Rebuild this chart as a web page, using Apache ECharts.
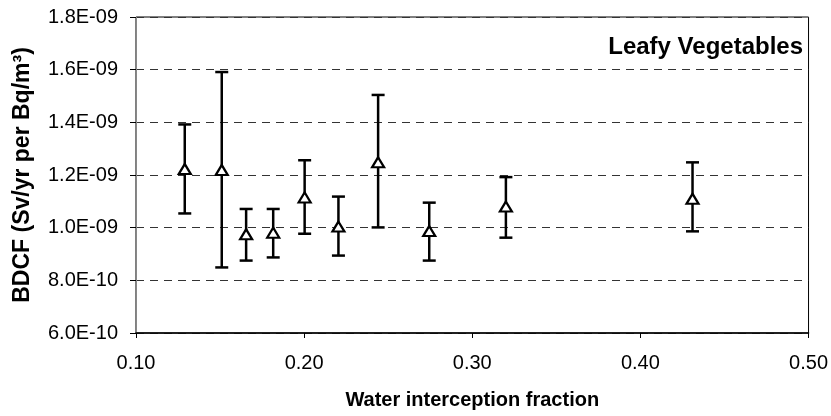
<!DOCTYPE html>
<html>
<head>
<meta charset="utf-8">
<script src="https://cdn.jsdelivr.net/npm/echarts@6/dist/echarts.min.js"></script>
<style>
  html, body { margin: 0; padding: 0; background: #fff; }
  #box { width: 831px; height: 416px; }
</style>
</head>
<body>
<div id="box"></div>
<script>
// water interception fraction
var fraction = [0.129, 0.151, 0.1655, 0.1816, 0.2003, 0.2204, 0.244, 0.2744, 0.320, 0.431];
// BDCF, in units of 1E-09 Sv/yr per Bq/m3
var bdcfMid  = [1.223, 1.219, 0.975, 0.981, 1.115, 1.004, 1.248, 0.987, 1.080, 1.110];
var bdcfHigh = [1.392, 1.591, 1.071, 1.071, 1.256, 1.118, 1.504, 1.095, 1.192, 1.248];
var bdcfLow  = [1.054, 0.849, 0.875, 0.887, 0.977, 0.894, 1.001, 0.875, 0.962, 0.986];
var xTicks = [0.10, 0.20, 0.30, 0.40, 0.50];
var yTicks = [0.6, 0.8, 1.0, 1.2, 1.4, 1.6, 1.8];

var font = 'Liberation Sans, Arial, sans-serif';

function sciLabel(v) {
    // 1.2 -> "1.2E-09", 0.8 -> "8.0E-10"
    var s = (v * 1e-9).toExponential(1);
    var parts = s.split('e');
    var e = parseInt(parts[1], 10);
    var sign = e < 0 ? '-' : '+';
    var ae = Math.abs(e);
    return parts[0] + 'E' + sign + (ae < 10 ? '0' + ae : ae);
}

var barData = [];
var pointData = [];
for (var i = 0; i < fraction.length; i++) {
    barData.push([fraction[i], bdcfLow[i], bdcfHigh[i]]);
    pointData.push([fraction[i], bdcfMid[i]]);
}

var myChart = echarts.init(document.getElementById('box'));
var option = {
    animation: false,
    backgroundColor: '#fff',
    title: {
        text: 'Leafy Vegetables',
        right: 23,
        top: 30,
        textStyle: { fontFamily: font, fontSize: 24, fontWeight: 'bold', color: '#000' }
    },
    grid: { left: 136, right: 21, top: 17, bottom: 83, show: true, borderColor: '#000', borderWidth: 1 },
    xAxis: {
        type: 'value',
        min: 0.10, max: 0.50, interval: 0.10,
        name: 'Water interception fraction',
        nameLocation: 'middle',
        nameGap: 57,
        nameTextStyle: { fontFamily: font, fontSize: 20, fontWeight: 'bold', color: '#000' },
        axisLine: { lineStyle: { color: '#000', width: 1.5 } },
        axisTick: { show: true, length: 5, inside: false, lineStyle: { color: '#000' } },
        axisLabel: {
            margin: 20, fontFamily: font, fontSize: 20, color: '#000',
            formatter: function (v) { return v.toFixed(2); }
        },
        splitLine: { show: false }
    },
    yAxis: {
        type: 'value',
        min: 0.6, max: 1.8, interval: 0.2,
        name: 'BDCF (Sv/yr per Bq/m\u00b3)',
        nameLocation: 'middle',
        nameGap: 102,
        nameTextStyle: { fontFamily: font, fontSize: 23, fontWeight: 'bold', color: '#000' },
        axisLine: { lineStyle: { color: '#888', width: 1 } },
        axisTick: { show: true, length: 6, lineStyle: { color: '#000' } },
        axisLabel: {
            margin: 18, fontFamily: font, fontSize: 20, color: '#000',
            formatter: sciLabel
        },
        splitLine: { show: true, lineStyle: { color: '#333', type: [8, 6], width: 1 } }
    },
    series: [
        {
            type: 'custom',
            data: barData,
            encode: { x: 0, y: [1, 2] },
            z: 2,
            renderItem: function (params, api) {
                var x = api.value(0);
                var lo = api.coord([x, api.value(1)]);
                var hi = api.coord([x, api.value(2)]);
                var cap = 6.5;
                var st = { stroke: '#000', lineWidth: 2.5 };
                return {
                    type: 'group',
                    children: [
                        { type: 'line', shape: { x1: lo[0], y1: lo[1], x2: hi[0], y2: hi[1] }, style: st },
                        { type: 'line', shape: { x1: hi[0] - cap, y1: hi[1], x2: hi[0] + cap, y2: hi[1] }, style: st },
                        { type: 'line', shape: { x1: lo[0] - cap, y1: lo[1], x2: lo[0] + cap, y2: lo[1] }, style: st }
                    ]
                };
            }
        },
        {
            type: 'scatter',
            data: pointData,
            symbol: 'triangle',
            symbolSize: [12, 10],
            z: 3,
            itemStyle: { color: '#fff', borderColor: '#000', borderWidth: 2.2, opacity: 1 },
            emphasis: { disabled: true }
        }
    ]
};
myChart.setOption(option);
</script>
</body>
</html>
